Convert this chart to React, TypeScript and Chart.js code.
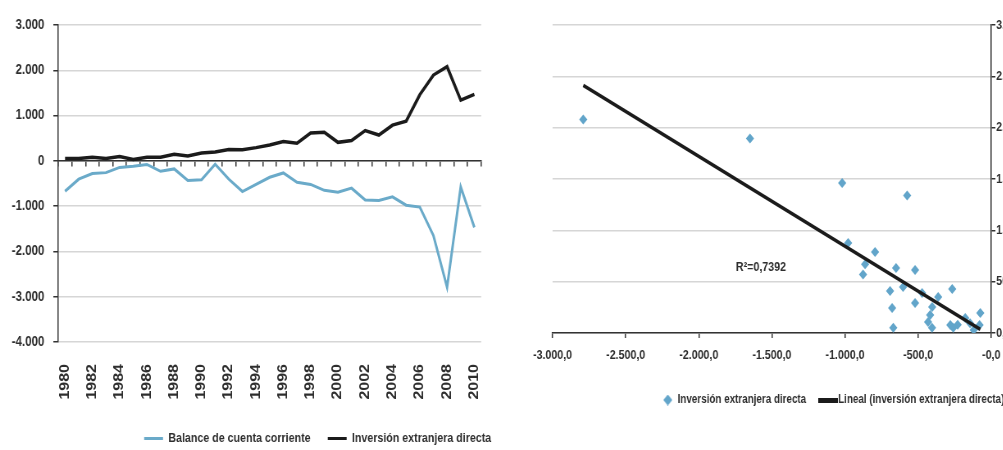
import React, { useEffect, useRef } from 'react';
import { Chart, registerables } from 'chart.js';

Chart.register(...registerables);

// ---------- data ----------
const years = [
  '1980', '1981', '1982', '1983', '1984', '1985', '1986', '1987', '1988', '1989',
  '1990', '1991', '1992', '1993', '1994', '1995', '1996', '1997', '1998', '1999',
  '2000', '2001', '2002', '2003', '2004', '2005', '2006', '2007', '2008', '2009', '2010',
];

const balanceCuentaCorriente = [
  -670, -405, -280, -260, -145, -120, -80, -230, -178, -432,
  -418, -75, -404, -678, -521, -363, -267, -473, -521, -651,
  -692, -603, -863, -877, -795, -979, -1020, -1650, -2790, -575, -1470,
];

const inversionExtranjeraDirecta = [
  50, 50, 78, 50, 95, 30, 78, 80, 146, 107,
  175, 195, 253, 243, 292, 350, 428, 390, 613, 633,
  409, 448, 670, 570, 789, 876, 1461, 1895, 2080, 1340, 1470,
];

// the scatter pairs the two series for 1980-2009
const scatterYearCount = 30;

const leftSeriesNames = ['Balance de cuenta corriente', 'Inversión extranjera directa'];
const rightSeriesNames = ['Inversión extranjera directa', 'Lineal (inversión extranjera directa)'];

const leftYTickLabels = ['-4.000', '-3.000', '-2.000', '-1.000', '0', '1.000', '2.000', '3.000'];
const rightXTickLabels = ['-3.000,0', '-2.500,0', '-2.000,0', '-1.500,0', '-1.000,0', '-500,0', '-0,0'];
const rightYTickLabels = ['0,0', '500,0', '1.000,0', '1.500,0', '2.000,0', '2.500,0', '3.000,0'];

const rSquaredText = 'R²=0,7392';
const rSquaredAnchor = [-1575, 640];

// ---------- styles ----------
// the figure is horizontally condensed: charts are drawn wider and squeezed
const SQUEEZE = 0.82;
const FONT = "'Liberation Sans', Arial, 'DejaVu Sans', sans-serif";
const TEXT = '#2e2e2e';
const GRID = '#d6d6d6';
const AXIS = '#333333';
const BLUE = '#6aaac9';
const DIAMOND = '#62a5ca';
const BLACK = '#1b1b1b';

const LEFT_W = 620;
const LEFT_H = 455;
const RIGHT_W = 630;
const RIGHT_H = 450;

function linearFit(xs: number[], ys: number[]) {
  const n = xs.length;
  const mx = xs.reduce((a, b) => a + b, 0) / n;
  const my = ys.reduce((a, b) => a + b, 0) / n;
  let sxy = 0;
  let sxx = 0;
  for (let i = 0; i < n; i++) {
    sxy += (xs[i] - mx) * (ys[i] - my);
    sxx += (xs[i] - mx) * (xs[i] - mx);
  }
  const slope = sxy / sxx;
  return { slope, intercept: my - slope * mx };
}

function makeDiamond(): HTMLCanvasElement {
  const c = document.createElement('canvas');
  c.width = 11;
  c.height = 11;
  const g = c.getContext('2d')!;
  g.fillStyle = DIAMOND;
  g.beginPath();
  g.moveTo(5.5, 0);
  g.lineTo(11, 5.5);
  g.lineTo(5.5, 11);
  g.lineTo(0, 5.5);
  g.closePath();
  g.fill();
  return c;
}

function makeBar(): HTMLCanvasElement {
  const c = document.createElement('canvas');
  c.width = 24;
  c.height = 5;
  const g = c.getContext('2d')!;
  g.fillStyle = BLACK;
  g.fillRect(0, 0, 24, 5);
  return c;
}

export default function App() {
  const leftRef = useRef<HTMLCanvasElement>(null);
  const rightRef = useRef<HTMLCanvasElement>(null);

  useEffect(() => {
    Chart.defaults.font.family = FONT;
    Chart.defaults.font.weight = 'bold';
    Chart.defaults.color = TEXT;

    const left = new Chart(leftRef.current!, {
      type: 'line',
      data: {
        labels: years,
        datasets: [
          {
            label: leftSeriesNames[0],
            data: balanceCuentaCorriente,
            borderColor: BLUE,
            backgroundColor: BLUE,
            borderWidth: 3,
            pointRadius: 0,
            tension: 0,
          },
          {
            label: leftSeriesNames[1],
            data: inversionExtranjeraDirecta,
            borderColor: BLACK,
            backgroundColor: BLACK,
            borderWidth: 3.5,
            pointRadius: 0,
            tension: 0,
            order: -1,
          },
        ],
      },
      options: {
        animation: false,
        responsive: false,
        devicePixelRatio: 1,
        events: [],
        layout: { padding: { top: 25, right: 0, bottom: 0, left: 0 } },
        plugins: {
          tooltip: { enabled: false },
          legend: {
            position: 'bottom',
            align: 'end',
            labels: {
              font: { family: FONT, size: 13, weight: 'bold' },
              color: TEXT,
              boxWidth: 23,
              boxHeight: 3,
              padding: 21,
              generateLabels: (chart: any) => {
                const items = Chart.defaults.plugins.legend.labels.generateLabels(chart);
                return items
                  .sort((a: any, b: any) => a.datasetIndex - b.datasetIndex)
                  .map((it: any) => ({ ...it, lineWidth: 0, fillStyle: it.strokeStyle }));
              },
            },
          },
        },
        scales: {
          x: {
            type: 'category',
            offset: true,
            grid: { display: false, drawTicks: false },
            border: { display: false },
            ticks: {
              autoSkip: false,
              maxRotation: 90,
              minRotation: 90,
              padding: 22,
              font: { family: FONT, size: 16, weight: 'bold' },
              color: TEXT,
              callback: (_v: any, index: number) => (index % 2 === 0 ? years[index] : ''),
            },
            afterFit: (s: any) => {
              s.height = 69;
            },
          },
          x2: {
            type: 'category',
            axis: 'x',
            position: { y: 0 },
            offset: true,
            grid: {
              offset: true,
              drawOnChartArea: false,
              drawTicks: true,
              tickLength: 5,
              tickColor: AXIS,
              lineWidth: 1.5,
            },
            border: { display: true, color: AXIS, width: 1.5 },
            ticks: { display: false, autoSkip: false },
          },
          y: {
            type: 'linear',
            min: -4000,
            max: 3000,
            ticks: {
              stepSize: 1000,
              padding: 11,
              font: { family: FONT, size: 14, weight: 'bold' },
              color: TEXT,
              callback: (_v: any, index: number) => leftYTickLabels[index],
            },
            grid: { color: GRID, lineWidth: 1.5, tickLength: 6, tickColor: AXIS },
            border: { color: AXIS, width: 1.5 },
            afterFit: (s: any) => {
              s.width = 71;
            },
          },
          ySpacer: {
            type: 'linear',
            axis: 'y',
            position: 'right',
            display: true,
            ticks: { display: false },
            grid: { display: false, drawTicks: false },
            border: { display: false },
            afterFit: (s: any) => {
              s.width = 20;
            },
          },
        },
      } as any,
    });

    const xs = balanceCuentaCorriente.slice(0, scatterYearCount);
    const ys = inversionExtranjeraDirecta.slice(0, scatterYearCount);
    const fit = linearFit(xs, ys);
    const xMin = Math.min(...xs);
    const xMax = Math.max(...xs);
    const diamondImg = makeDiamond();
    const barImg = makeBar();

    const r2Plugin = {
      id: 'r2label',
      afterDatasetsDraw(chart: any) {
        const { ctx, scales } = chart;
        ctx.save();
        ctx.font = `bold 13px ${FONT}`;
        ctx.fillStyle = TEXT;
        ctx.textAlign = 'center';
        ctx.textBaseline = 'middle';
        ctx.fillText(
          rSquaredText,
          scales.x.getPixelForValue(rSquaredAnchor[0]),
          scales.y.getPixelForValue(rSquaredAnchor[1]),
        );
        ctx.restore();
      },
    };

    const right = new Chart(rightRef.current!, {
      type: 'scatter',
      data: {
        datasets: [
          {
            label: rightSeriesNames[0],
            data: xs.map((x, i) => ({ x, y: ys[i] })),
            pointStyle: 'rectRot',
            pointRadius: 5,
            backgroundColor: DIAMOND,
            borderWidth: 0,
            order: 1,
          },
          {
            label: rightSeriesNames[1],
            data: [
              { x: xMin, y: fit.intercept + fit.slope * xMin },
              { x: xMax, y: fit.intercept + fit.slope * xMax },
            ],
            showLine: true,
            borderColor: BLACK,
            backgroundColor: BLACK,
            borderWidth: 3.5,
            pointRadius: 0,
            order: 0,
          },
        ],
      },
      options: {
        animation: false,
        responsive: false,
        devicePixelRatio: 1,
        events: [],
        layout: { padding: { top: 25, right: 0, bottom: 34, left: 58 } },
        plugins: {
          tooltip: { enabled: false },
          legend: {
            position: 'bottom',
            align: 'end',
            labels: {
              usePointStyle: true,
              font: { family: FONT, size: 12, weight: 'bold' },
              color: TEXT,
              padding: 21,
              generateLabels: (chart: any) => {
                const items = Chart.defaults.plugins.legend.labels.generateLabels(chart);
                return items
                  .sort((a: any, b: any) => a.datasetIndex - b.datasetIndex)
                  .map((it: any) => ({ ...it, pointStyle: it.datasetIndex === 0 ? diamondImg : barImg }));
              },
            },
          },
        },
        scales: {
          x: {
            type: 'linear',
            min: -3000,
            max: 0,
            ticks: {
              stepSize: 500,
              padding: 10,
              font: { family: FONT, size: 13, weight: 'bold' },
              color: TEXT,
              callback: (_v: any, index: number) => rightXTickLabels[index],
            },
            grid: { drawOnChartArea: false, tickLength: 5, tickColor: AXIS, lineWidth: 1.5 },
            border: { color: AXIS, width: 1.5 },
            afterFit: (s: any) => {
              s.height = 40;
            },
          },
          y: {
            type: 'linear',
            position: 'right',
            min: 0,
            max: 3000,
            ticks: {
              stepSize: 500,
              padding: 1,
              font: { family: FONT, size: 13, weight: 'bold' },
              color: TEXT,
              callback: (_v: any, index: number) => rightYTickLabels[index],
            },
            grid: { color: GRID, lineWidth: 1.5, tickLength: 5, tickColor: AXIS },
            border: { color: AXIS, width: 1.5 },
            afterFit: (s: any) => {
              s.width = 37;
            },
          },
        },
      } as any,
      plugins: [r2Plugin],
    });

    return () => {
      left.destroy();
      right.destroy();
    };
  }, []);

  const squeeze = {
    position: 'absolute' as const,
    top: 0,
    transform: `scaleX(${SQUEEZE})`,
    transformOrigin: '0 0',
  };

  return (
    <div
      style={{
        position: 'absolute',
        left: 0,
        top: 0,
        width: 1003,
        height: 450,
        overflow: 'hidden',
        background: '#ffffff',
      }}
    >
      <canvas
        ref={leftRef}
        width={LEFT_W}
        height={LEFT_H}
        style={{ ...squeeze, left: 0, width: LEFT_W, height: LEFT_H }}
      />
      <canvas
        ref={rightRef}
        width={RIGHT_W}
        height={RIGHT_H}
        style={{ ...squeeze, left: 505, width: RIGHT_W, height: RIGHT_H }}
      />
    </div>
  );
}
